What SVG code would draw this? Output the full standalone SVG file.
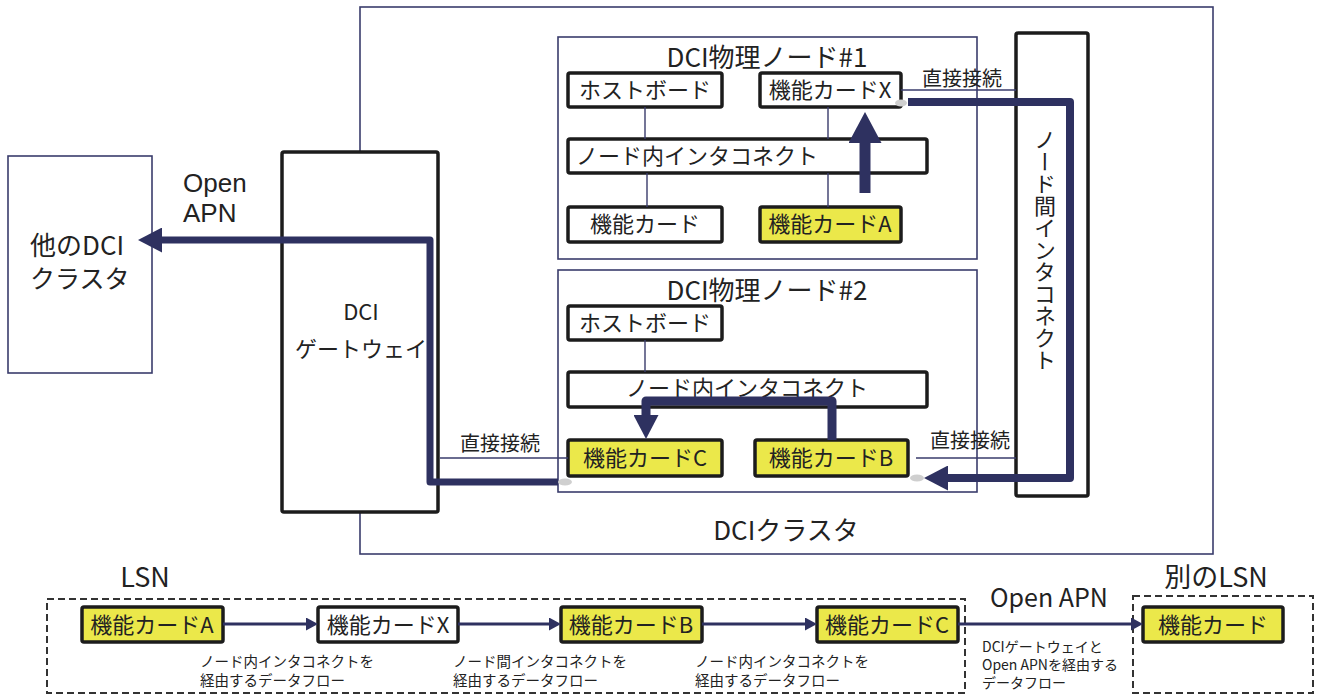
<svg xmlns="http://www.w3.org/2000/svg" width="1317" height="694" viewBox="0 0 1317 694">
<style>
text{font-family:"Noto Sans CJK JP","Noto Sans",sans-serif;fill:#222}
.lat{font-family:"Liberation Sans",Arial,sans-serif}
.frame{fill:#fff;stroke:#3a3c6c;stroke-width:1.6}
.card{fill:#fff;stroke:#1c1c1c;stroke-width:3.5}
.yel{fill:#ebe84a}
.big{fill:#fff;stroke:#1c1c1c;stroke-width:3.5}
.thin{stroke:#3a3c6c;stroke-width:1.4;fill:none}
.thick{stroke:#2e3160;fill:none;stroke-linejoin:round}
.flow{stroke:#2e3160;stroke-width:3;fill:none}
.dash{fill:none;stroke:#333;stroke-width:2;stroke-dasharray:7 4}
.t22{font-size:22px}
.t20{font-size:20px}
.t25{font-size:25px}
.t26{font-size:26px}
.t14{font-size:14.5px}
.t14s{font-size:14px}
.mid{text-anchor:middle}
.dot{fill:#cfcfcf}
</style>
<defs>
<marker id="ah" viewBox="0 0 24 25" refX="0" refY="12.5" markerWidth="24" markerHeight="25" markerUnits="userSpaceOnUse" orient="auto"><path d="M0,0 L24,12.5 L0,25 z" fill="#2e3160"/></marker>
<marker id="ahBig" viewBox="0 0 31 33" refX="0" refY="16.5" markerWidth="31" markerHeight="33" markerUnits="userSpaceOnUse" orient="auto"><path d="M0,0 L31,16.5 L0,33 z" fill="#2e3160"/></marker>
<marker id="ahS" viewBox="0 0 12 13" refX="0" refY="6.5" markerWidth="12" markerHeight="13" markerUnits="userSpaceOnUse" orient="auto"><path d="M0,0 L12,6.5 L0,13 z" fill="#2e3160"/></marker>
</defs>

<g id="dci-cluster">
<rect class="frame" x="360" y="7" width="853" height="547"/>
<text class="t26 mid" x="786" y="540">DCIクラスタ</text>
</g>

<g id="other-dci">
<rect class="frame" x="8" y="156" width="144" height="217"/>
<text class="t26" x="30" y="255">他のDCI</text>
<text class="t25" x="30" y="288">クラスタ</text>
</g>

<g id="gateway">
<rect class="big" x="282" y="152" width="156" height="360" rx="2"/>
<text class="t22 mid" x="361" y="320">DCI</text>
<text class="t22 mid" x="361" y="357">ゲートウェイ</text>
</g>

<g id="node1">
<rect class="frame" x="558" y="37" width="419" height="222"/>
<text class="t26 mid" x="767" y="67">DCI物理ノード#1</text>
<g id="n1-host"><rect class="card" x="568" y="73" width="154" height="34" rx="2"/><text class="t22 mid" x="645" y="98">ホストボード</text></g>
<g id="n1-cardX"><rect class="card" x="760" y="73" width="141" height="34" rx="2"/><text class="t22 mid" x="830" y="98">機能カードX</text></g>
<g id="n1-ic"><rect class="card" x="568" y="139" width="359" height="34" rx="2"/><text class="t22" x="576" y="164">ノード内インタコネクト</text></g>
<g id="n1-card"><rect class="card" x="568" y="207" width="154" height="35" rx="2"/><text class="t22 mid" x="645" y="232">機能カード</text></g>
<g id="n1-cardA"><rect class="card yel" x="760" y="207" width="141" height="35" rx="2"/><text class="t22 mid" x="830" y="232">機能カードA</text></g>
</g>

<g id="node2">
<rect class="frame" x="558" y="270" width="419" height="222"/>
<text class="t26 mid" x="767" y="300">DCI物理ノード#2</text>
<g id="n2-host"><rect class="card" x="568" y="306" width="154" height="34" rx="2"/><text class="t22 mid" x="645" y="331">ホストボード</text></g>
<g id="n2-ic"><rect class="card" x="568" y="372" width="359" height="35" rx="2"/><text class="t22 mid" x="747" y="396">ノード内インタコネクト</text></g>
<g id="n2-cardC"><rect class="card yel" x="568" y="440" width="154" height="36" rx="2"/><text class="t22 mid" x="645" y="466">機能カードC</text></g>
<g id="n2-cardB"><rect class="card yel" x="755" y="440" width="153" height="36" rx="2"/><text class="t22 mid" x="831" y="466">機能カードB</text></g>
</g>

<g id="inter-node">
<rect class="big" x="1016" y="33" width="72" height="463" rx="2"/>
<text class="t22" x="1045" y="250" style="writing-mode:vertical-rl;text-anchor:middle">ノード間インタコネクト</text>
</g>

<g id="connectors">
<path class="thin" d="M645,107V139M828,107V139M647,173V207M828,173V207M645,340V372"/>
<path class="thin" d="M901,90H1016M916,458H1016M440,458H568"/>
<text class="t20" x="922" y="86">直接接続</text>
<text class="t20" x="930" y="448">直接接続</text>
<text class="t20" x="460" y="451">直接接続</text>
<ellipse class="dot" cx="901" cy="103" rx="6" ry="3.5"/>
<ellipse class="dot" cx="917" cy="478" rx="7" ry="3.5"/>
<ellipse class="dot" cx="565" cy="482" rx="7" ry="3.5"/>
<path class="thick" stroke-width="11" d="M865,193V143" marker-end="url(#ahBig)"/>
<path class="thick" stroke-width="8" d="M908,102H1070V478H948" marker-end="url(#ah)"/>
<path class="thick" stroke-width="9" d="M832,440V401H646V415" marker-end="url(#ah)"/>
<path class="thick" stroke-width="7" d="M558,482H430V240H162" marker-end="url(#ah)"/>
<text class="lat" style="font-size:26px" x="183" y="192">Open</text>
<text class="lat" style="font-size:26px" x="183" y="222">APN</text>
</g>

<g id="lsn">
<text class="mid" style="font-size:27px" x="145" y="587">LSN</text>
<rect class="dash" x="47" y="599" width="918" height="94"/>
<g id="lsn-A"><rect class="card yel" x="82" y="607" width="141" height="35" rx="2"/><text class="t22 mid" x="152" y="633">機能カードA</text></g>
<g id="lsn-X"><rect class="card" x="318" y="607" width="140" height="35" rx="2"/><text class="t22 mid" x="388" y="633">機能カードX</text></g>
<g id="lsn-B"><rect class="card yel" x="561" y="607" width="141" height="35" rx="2"/><text class="t22 mid" x="631" y="633">機能カードB</text></g>
<g id="lsn-C"><rect class="card yel" x="817" y="607" width="141" height="35" rx="2"/><text class="t22 mid" x="887" y="633">機能カードC</text></g>
</g>

<g id="other-lsn">
<text class="mid" style="font-size:27px" x="1216" y="587">別のLSN</text>
<rect class="dash" x="1133" y="596" width="180" height="97"/>
<g id="other-card"><rect class="card yel" x="1143" y="607" width="140" height="35" rx="2"/><text class="t22 mid" x="1213" y="633">機能カード</text></g>
</g>

<g id="flow-connectors">
<path class="flow" d="M223,624H306" marker-end="url(#ahS)"/>
<path class="flow" d="M458,624H549" marker-end="url(#ahS)"/>
<path class="flow" d="M702,624H805" marker-end="url(#ahS)"/>
<path class="flow" d="M958,624H1131" marker-end="url(#ahS)"/>
<text class="t14" x="200" y="667">ノード内インタコネクトを</text>
<text class="t14" x="200" y="686">経由するデータフロー</text>
<text class="t14" x="453" y="667">ノード間インタコネクトを</text>
<text class="t14" x="453" y="686">経由するデータフロー</text>
<text class="t14" x="695" y="667">ノード内インタコネクトを</text>
<text class="t14" x="695" y="686">経由するデータフロー</text>
<text class="t25" x="990" y="607">Open APN</text>
<text class="t14s" x="982" y="652">DCIゲートウェイと</text>
<text class="t14s" x="982" y="670">Open APNを経由する</text>
<text class="t14s" x="982" y="688">データフロー</text>
</g>
</svg>
